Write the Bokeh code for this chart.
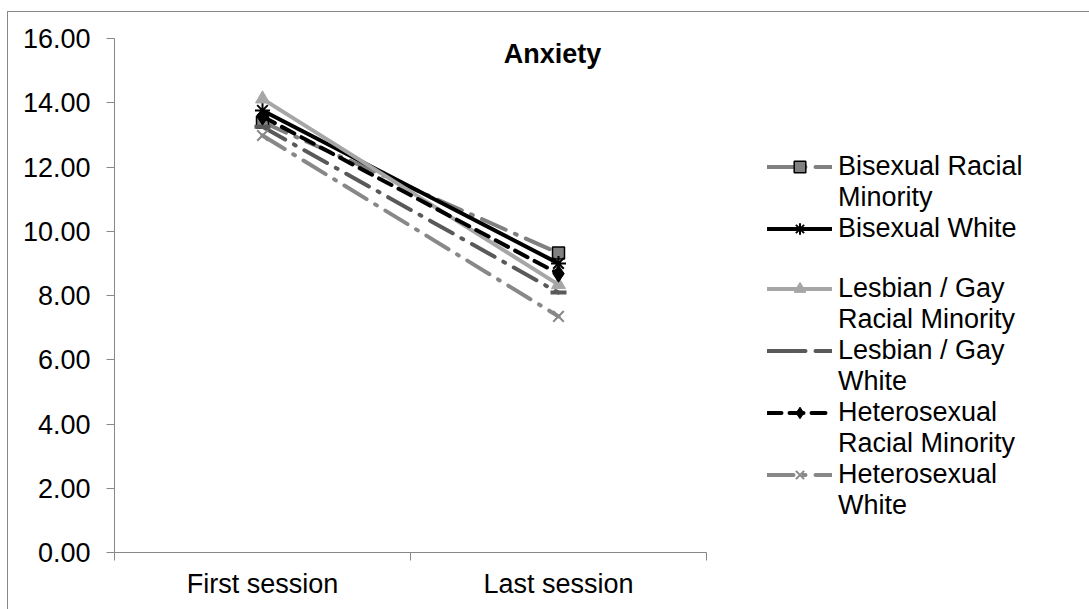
from bokeh.plotting import figure
from bokeh.models import (Legend, LegendItem, FixedTicker, Label, LinearAxis,
                          Range1d, NumeralTickFormatter)
from bokeh.embed import file_html
from bokeh.resources import INLINE

sessions = ["First session", "Last session"]
series_labels = [
    ["Bisexual Racial", "Minority"],
    ["Bisexual White", " "],
    ["Lesbian / Gay", "Racial Minority"],
    ["Lesbian / Gay", "White"],
    ["Heterosexual", "Racial Minority"],
    ["Heterosexual", "White"],
]
bisexual_racial_minority = [13.40, 9.32]
bisexual_white = [13.76, 9.00]
lesbian_gay_racial_minority = [14.12, 8.34]
lesbian_gay_white = [13.25, 8.09]
heterosexual_racial_minority = [13.57, 8.68]
heterosexual_white = [12.98, 7.35]
y_ticks = [0, 2, 4, 6, 8, 10, 12, 14, 16]

values = [bisexual_racial_minority, bisexual_white, lesbian_gay_racial_minority,
          lesbian_gay_white, heterosexual_racial_minority, heterosexual_white]

styles = [
    dict(color="#808080", dash="26 10 2 10", marker="square", mfill="#808080", mline="#000000", msize=12, mlw=1.5),
    dict(color="#000000", dash="solid", marker="asterisk", mfill="#000000", mline="#000000", msize=15, mlw=2),
    dict(color="#a6a6a6", dash="solid", marker="triangle", mfill="#a6a6a6", mline="#a6a6a6", msize=14, mlw=1),
    dict(color="#595959", dash="26 10 2 10", marker="dash", mfill="#595959", mline="#595959", msize=16, mlw=4),
    dict(color="#000000", dash="14 8", marker="diamond", mfill="#000000", mline="#000000", msize=17, mlw=1),
    dict(color="#888888", dash="26 10 2 10", marker="x", mfill="#888888", mline="#888888", msize=15, mlw=2),
]

FONT = "Liberation Sans"
FS = "27px"

p = figure(frame_width=592, frame_height=514, output_backend="svg",
           toolbar_location=None,
           x_range=Range1d(0, len(sessions)), y_range=Range1d(0, 16),
           x_axis_type=None, y_axis_type=None,
           min_border_left=106, min_border_top=26, min_border_right=383,
           min_border_bottom=57)
p.styles = {"margin-left": "7px", "margin-top": "11px",
            "border-left": "1px solid #888888", "border-top": "1px solid #888888"}
p.outline_line_color = None
p.xgrid.visible = False
p.ygrid.visible = False
p.background_fill_color = "white"
p.border_fill_color = "white"

# y axis
yaxis = LinearAxis(ticker=FixedTicker(ticks=y_ticks, minor_ticks=[]),
                   formatter=NumeralTickFormatter(format="0.00"))
yaxis.axis_line_color = "#888888"
yaxis.major_tick_line_color = "#888888"
yaxis.major_tick_in = 0
yaxis.major_tick_out = 8
yaxis.minor_tick_line_color = None
yaxis.major_label_standoff = 16
yaxis.major_label_text_font = FONT
yaxis.major_label_text_font_size = FS
yaxis.major_label_text_color = "black"
p.add_layout(yaxis, "left")

# x axis: labels at category centres, ticks at category boundaries
xpos = [i + 0.5 for i in range(len(sessions))]
bounds = list(range(len(sessions) + 1))
xaxis = LinearAxis(ticker=FixedTicker(ticks=xpos, minor_ticks=bounds))
xaxis.major_label_overrides = {x: s for x, s in zip(xpos, sessions)}
xaxis.axis_line_color = "#888888"
xaxis.major_tick_line_color = None
xaxis.major_tick_in = 0
xaxis.major_tick_out = 0
xaxis.minor_tick_line_color = "#888888"
xaxis.minor_tick_in = 0
xaxis.minor_tick_out = 8
xaxis.major_label_standoff = 8
xaxis.major_label_text_font = FONT
xaxis.major_label_text_font_size = FS
xaxis.major_label_text_color = "black"
p.add_layout(xaxis, "below")

items = []
for lines, vals, st in zip(series_labels, values, styles):
    lr = p.line(xpos, vals, line_color=st["color"], line_width=4,
                line_dash=st["dash"], line_cap="round")
    sr = p.scatter(xpos, vals, marker=st["marker"], size=st["msize"],
                   fill_color=st["mfill"], line_color=st["mline"],
                   line_width=st["mlw"])
    items.append(LegendItem(label=lines[0], renderers=[lr, sr]))
    for extra in lines[1:]:
        items.append(LegendItem(label=extra, renderers=[]))

legend = Legend(items=items, location=(61, 31))
legend.label_text_font = FONT
legend.label_text_font_size = FS
legend.label_text_color = "black"
legend.glyph_width = 65
legend.glyph_height = 29
legend.label_standoff = 6
legend.spacing = 0
legend.padding = 0
legend.margin = 0
legend.border_line_color = None
legend.background_fill_alpha = 0
legend.label_height = 29
p.add_layout(legend, "right")

title = Label(x=1.48, y=16, text="Anxiety", text_font=FONT,
              text_font_size=FS, text_font_style="bold", text_align="center",
              text_color="black", text_baseline="alphabetic", y_offset=-15)
p.add_layout(title)

open("out.html", "w").write(file_html(p, INLINE))
